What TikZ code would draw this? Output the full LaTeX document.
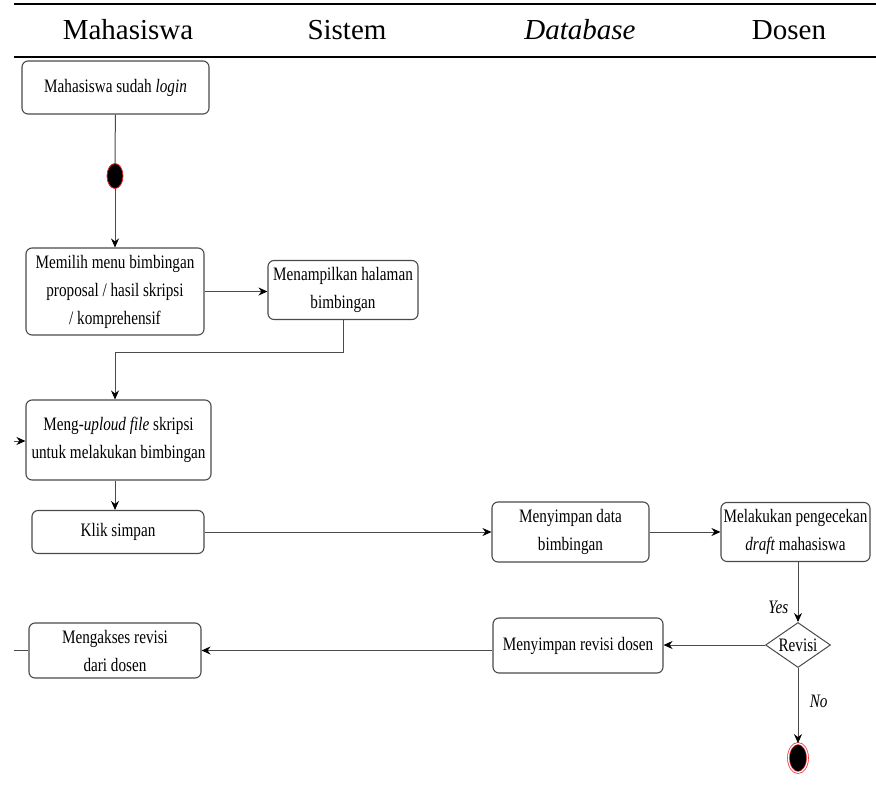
\documentclass[tikz,border=0pt]{standalone}
\usepackage{fontspec}
\setmainfont{Liberation Serif}
\newfontfamily\narrowfont[FakeStretch=0.8]{Liberation Serif}
\usetikzlibrary{positioning,arrows.meta,shapes.geometric}
\definecolor{linegray}{HTML}{4A4A4A}
\definecolor{startred}{HTML}{E3242B}
\tikzset{
    every node/.style={font=\narrowfont\fontsize{19}{28}\selectfont},
    lanehead/.style={font=\fontsize{29}{34}\selectfont},
    act/.style={rectangle,rounded corners=6pt,draw=linegray,line width=1.1pt,align=center,inner sep=2pt},
    decision/.style={diamond,draw=linegray,line width=1pt,aspect=1.44,minimum width=65pt,minimum height=45pt,inner sep=0pt},
    startnode/.style={ellipse,fill=black,draw=startred,line width=0.8pt,minimum width=16pt,minimum height=25pt,inner sep=0pt},
    endnode/.style={ellipse,fill=black,draw=startred,double=white,double distance=1.2pt,line width=0.7pt,minimum width=19pt,minimum height=29pt,inner sep=0pt},
    guard/.style={font=\narrowfont\itshape\fontsize{19}{28}\selectfont},
    every edge/.style={draw=linegray,->,>={Stealth[length=9pt,width=8pt,color=black]},line width=1pt}
}

\begin{document}
\begin{tikzpicture}[x=1pt,y=-1pt]
    \useasboundingbox (0,0) rectangle (876,790);
    \draw[line width=2pt] (14,4) -- (876,4);
    \draw[line width=2pt] (14,57) -- (876,57);
    \node[lanehead] (hmhs) at (128,30) {Mahasiswa};
    \node[lanehead] (hsys) at (347,30) {Sistem};
    \node[lanehead] (hdb) at (580,30) {\textit{Database}};
    \node[lanehead] (hdsn) at (789,30) {Dosen};

    \node[act,minimum width=187pt,minimum height=53pt] (login) at (115.5,87.5) {Mahasiswa sudah \textit{login}};
    \node[startnode] (start) at (115,176) {};
    \node[act,minimum width=178pt,minimum height=87pt] (menu) at (115,291.5) {Memilih menu bimbingan\\proposal / hasil skripsi\\/ komprehensif};
    \node[act,minimum width=150pt,minimum height=59pt] (tampil) at (343,290) {Menampilkan halaman\\bimbingan};
    \node[act,minimum width=185pt,minimum height=80pt] (upload) at (118.5,440) {Meng-\textit{uploud file} skripsi\\untuk melakukan bimbingan};
    \node[act,minimum width=172pt,minimum height=43pt] (simpan) at (118,532) {Klik simpan};
    \node[act,minimum width=157pt,minimum height=60pt] (simpandata) at (570.5,532) {Menyimpan data\\bimbingan};
    \node[act,minimum width=149pt,minimum height=59pt] (cek) at (795.5,532) {Melakukan pengecekan\\\textit{draft} mahasiswa};
    \node[decision] (revisi) at (798,645) {Revisi};
    \node[endnode] (finish) at (798,758) {};
    \node[act,minimum width=170pt,minimum height=55pt] (simpanrev) at (578,645.5) {Menyimpan revisi dosen};
    \node[act,minimum width=172pt,minimum height=55pt] (akses) at (115,650.5) {Mengakses revisi\\dari dosen};
    \coordinate (inupload) at (14,441);
    \coordinate (inakses) at (14,650.5);

    \path
    (login) edge[-] (start)
    (start) edge (start |- menu.north)
    (menu.east) edge (menu.east -| tampil.west)
    (upload.south -| menu) edge (simpan.north -| menu)
    (inupload) edge (inupload -| upload.west)
    (simpan) edge (simpandata)
    (simpandata) edge (cek)
    (cek.south -| revisi.north) edge node[guard,left=6pt,pos=0.75] {Yes} (revisi.north)
    (revisi) edge node[guard,right=8pt,pos=0.45] {No} (finish)
    (revisi.west) edge (revisi.west -| simpanrev.east)
    (simpanrev.west |- akses) edge (akses.east)
    (inakses) edge[-] (akses.west);
    \draw[draw=linegray,line width=1pt,-{Stealth[length=9pt,width=8pt,color=black]}] (tampil.south) -- ++(0,32) -| (upload.north -| menu);
\end{tikzpicture}
\end{document}
